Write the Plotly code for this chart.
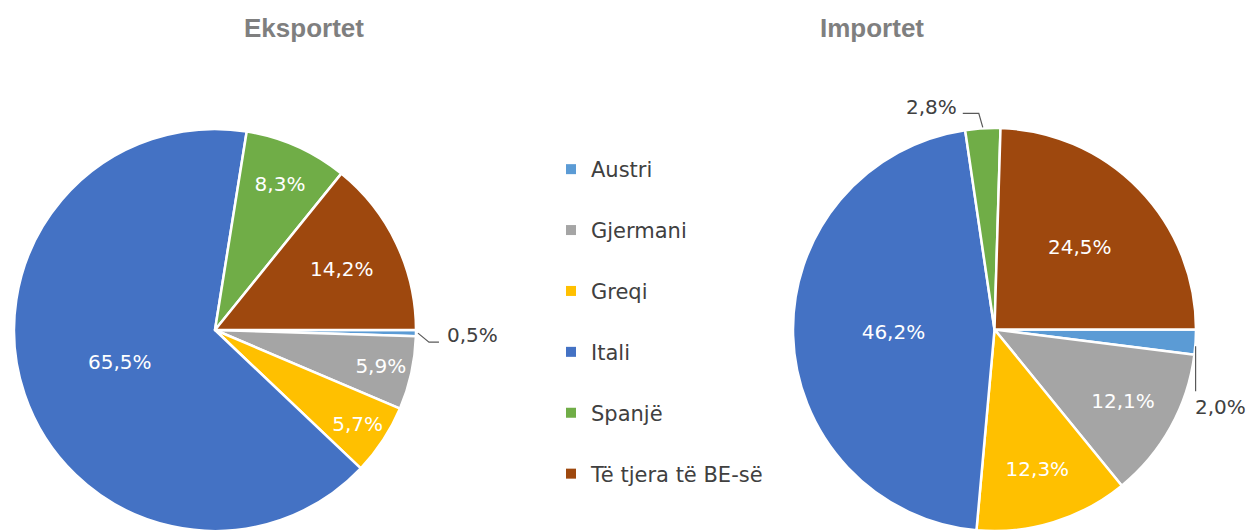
import math
import plotly.graph_objects as go

# ---- data -------------------------------------------------------------
categories = ["Austri", "Gjermani", "Greqi", "Itali", "Spanjë", "Të tjera të BE-së"]
export_share = [0.5, 5.9, 5.7, 65.5, 8.3, 14.2]
import_share = [2.0, 12.1, 12.3, 46.2, 2.8, 24.5]
titles = ["Eksportet", "Importet"]

# ---- style ------------------------------------------------------------
colors = ["#5B9BD5", "#A5A5A5", "#FFC000", "#4472C4", "#70AD47", "#9E480E"]
W, H = 1246, 531
FONT = "DejaVu Sans"
TEXT_DARK = "#404040"
OUTSIDE_BELOW = 3.0  # slices smaller than this get an outside call-out
# pie boxes in pixels: (left, right, top, bottom)
boxes = [(14, 416, 129, 531), (793, 1196, 128, 531)]
title_x_px = [304, 872]
title_y_px = 28
# call-out styling per pie / category: leader path offsets (px) and label anchor offset
callouts = {
    (0, "Austri"): dict(path=[(2, 0), (13, 9), (23, 9)], label=(29, 2), xanchor="left"),
    (1, "Spanjë"): dict(path=[(0, -1), (-4, -15), (-20, -15)], label=(-24, -21), xanchor="right"),
    (1, "Austri"): dict(path=[(0, 4), (0, 49)], label=(-3, 65), xanchor="left"),
}

fig = go.Figure()
shapes, annotations = [], []

for k, (vals, title) in enumerate(zip([export_share, import_share], titles)):
    x0, x1, top, bottom = boxes[k]
    fig.add_trace(go.Pie(
        labels=categories,
        values=vals,
        sort=False,
        direction="clockwise",
        rotation=90,
        marker=dict(colors=colors, line=dict(color="white", width=2.5)),
        texttemplate="%{value:.1f}%",
        textposition=["inside" if v >= OUTSIDE_BELOW else "none" for v in vals],
        insidetextorientation="horizontal",
        insidetextfont=dict(family=FONT, size=20, color="white"),
        domain=dict(x=[x0 / W, x1 / W], y=[(H - bottom) / H, (H - top) / H]),
        showlegend=False,
        hoverinfo="label+value",
    ))

    # geometry of the pie for call-outs
    cx, cy = (x0 + x1) / 2, (top + bottom) / 2
    r = min(x1 - x0, bottom - top) / 2
    total = sum(vals)
    cum = 0.0
    for cat, v in zip(categories, vals):
        mid = (cum + v / 2) / total
        cum += v
        if v >= OUTSIDE_BELOW:
            continue
        th = 2 * math.pi * mid
        ex, ey = cx + r * math.cos(th), cy + r * math.sin(th)
        co = callouts[(k, cat)]
        pts = [(ex + dx, ey + dy) for dx, dy in co["path"]]
        path = "M " + " L ".join(f"{px / W},{1 - py / H}" for px, py in pts)
        shapes.append(dict(type="path", xref="paper", yref="paper", path=path,
                           line=dict(color="#595959", width=1.2)))
        lx, ly = ex + co["label"][0], ey + co["label"][1]
        annotations.append(dict(x=lx / W, y=1 - ly / H, xref="paper", yref="paper",
                                text=f"{v:.1f}".replace(".", ",") + "%", showarrow=False,
                                xanchor=co["xanchor"], yanchor="middle",
                                font=dict(family=FONT, size=20, color=TEXT_DARK)))

    annotations.append(dict(x=title_x_px[k] / W, y=1 - title_y_px / H, xref="paper", yref="paper",
                            text=title, showarrow=False, xanchor="center", yanchor="middle",
                            font=dict(family="Liberation Sans", size=26, color="#7F7F7F", weight="bold")))

# legend entries
for cat, col in zip(categories, colors):
    fig.add_trace(go.Scatter(x=[None], y=[None], mode="markers", name=cat, legendgroup=cat,
                             marker=dict(symbol="square", size=10, color=col),
                             showlegend=True, hoverinfo="skip"))

fig.update_layout(
    width=W, height=H,
    margin=dict(l=0, r=0, t=0, b=0),
    paper_bgcolor="white", plot_bgcolor="white",
    separators=",.",
    xaxis=dict(visible=False), yaxis=dict(visible=False),
    shapes=shapes, annotations=annotations,
    legend=dict(x=551 / W, y=1 - 149 / H, xanchor="left", yanchor="top",
                font=dict(family=FONT, size=21, color=TEXT_DARK),
                tracegroupgap=30.6, itemsizing="trace", bgcolor="rgba(0,0,0,0)"),
)

fig.write_html("out.html", config={"displayModeBar": False},
               post_script="document.body.style.margin='0';document.body.style.overflow='hidden';")
